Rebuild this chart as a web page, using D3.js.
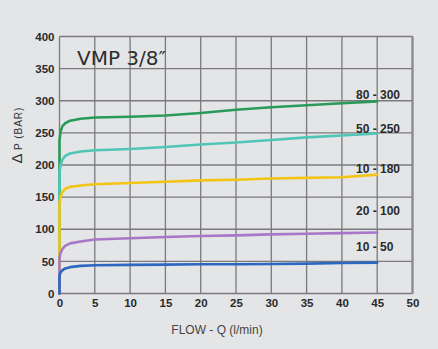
<!DOCTYPE html>
<html>
<head>
<meta charset="utf-8">
<script src="https://cdn.jsdelivr.net/npm/d3@7/dist/d3.min.js"></script>
<style>
  html, body { margin: 0; padding: 0; background: #e4e5e7; }
  svg { display: block; }
</style>
</head>
<body>
<svg id="chart" width="438" height="349"></svg>
<script>
// Pressure-relief curves, VMP 3/8" valve: pressure drop vs. flow per spring range
const xTicks = [0, 5, 10, 15, 20, 25, 30, 35, 40, 45, 50];
const yTicks = [0, 50, 100, 150, 200, 250, 300, 350, 400];

const seriesNames = ["80 - 300", "50 - 250", "10 - 180", "20 - 100", "10 - 50"];
const seriesColors = ["#2a9a5a", "#4fc6b6", "#f2c414", "#a877c8", "#2c67c0"];

// flow (l/min) and pressure (bar) pairs for each spring range
const flowQ = [0, 0, 0.15, 0.4, 0.8, 1.5, 3, 5, 10, 15, 20, 25, 30, 35, 40, 45];
const range80_300 = [0, 238, 252, 260, 265, 269, 272, 274, 275, 277, 281, 286, 290, 293, 296, 299];
const range50_250 = [0, 188, 200, 208, 214, 218, 221, 223, 225, 228, 232, 235, 239, 243, 246, 249];
const range10_180 = [0, 140, 150, 158, 163, 166, 168, 170, 172, 174, 176, 177, 179, 180, 181, 185];
const range20_100 = [0, 55, 63, 69, 74, 78, 81, 84, 86, 88, 89.5, 90.5, 92, 93, 94, 95];
const range10_50  = [0, 28, 33, 36, 39, 41, 43, 44, 44.5, 45, 45.5, 45.5, 46, 46.5, 47.5, 48];
const seriesValues = [range80_300, range50_250, range10_180, range20_100, range10_50];

const svg = d3.select("#chart");
const x = d3.scaleLinear().domain([0, 50]).range([59.5, 412.5]);
const y = d3.scaleLinear().domain([0, 400]).range([293.5, 36.5]);

// grid
const grid = svg.append("g");
grid.selectAll("line.v").data(xTicks).join("line")
  .attr("x1", d => x(d)).attr("x2", d => x(d))
  .attr("y1", y(0)).attr("y2", y(400))
  .attr("stroke", "#7a7a7c").attr("stroke-width", 1.3);
grid.selectAll("line.h").data(yTicks).join("line")
  .attr("x1", x(0)).attr("x2", x(50))
  .attr("y1", d => y(d)).attr("y2", d => y(d))
  .attr("stroke", "#7a7a7c").attr("stroke-width", 1.3);
// heavier frame on right edge
grid.append("line")
  .attr("x1", x(50)).attr("x2", x(50)).attr("y1", y(0)).attr("y2", y(400))
  .attr("stroke", "#8a8a8c").attr("stroke-width", 2.2);

// axes (labels only)
const xAxis = d3.axisBottom(x).tickValues(xTicks).tickSize(0).tickPadding(0);
const gx = svg.append("g").attr("transform", `translate(0,${y(0) + 5})`).call(xAxis);
gx.select(".domain").remove();
gx.selectAll("text")
  .attr("font-family", "Liberation Sans, Arial, sans-serif")
  .attr("font-weight", "bold").attr("font-size", 11.5).attr("fill", "#2a2a2a")
  .attr("dy", "0.71em");

const yAxis = d3.axisLeft(y).tickValues(yTicks).tickSize(0).tickPadding(5);
const gy = svg.append("g").attr("transform", `translate(${x(0)},0)`).call(yAxis);
gy.select(".domain").remove();
gy.selectAll("text")
  .attr("font-family", "Liberation Sans, Arial, sans-serif")
  .attr("font-weight", "bold").attr("font-size", 11.5).attr("fill", "#2a2a2a");

// curves
const line = d3.line()
  .x((d, i) => x(flowQ[i]))
  .y(d => y(d))
  .curve(d3.curveLinear);

svg.append("g").selectAll("path").data(seriesValues).join("path")
  .attr("d", d => line(d))
  .attr("fill", "none")
  .attr("stroke", (d, i) => seriesColors[i])
  .attr("stroke-width", 2.6)
  .attr("stroke-linejoin", "round")
  .attr("stroke-linecap", "round");

// range labels
const labelY = [300, 250, 180, 100, 50].map((v, i) => v);
const labelPos = [309, 257, 194, 129, 73];
svg.append("g").selectAll("text").data(seriesNames).join("text")
  .attr("x", 356)
  .attr("y", (d, i) => y(labelPos[i]))
  .attr("dy", "0.35em")
  .attr("font-family", "Liberation Sans, Arial, sans-serif")
  .attr("font-weight", "bold").attr("font-size", 12).attr("fill", "#2a2a2a")
  .text(d => d);

// title inside plot
svg.append("text")
  .attr("x", 77).attr("y", 65)
  .attr("font-family", "DejaVu Sans, sans-serif")
  .attr("font-size", 20).attr("fill", "#2e2e2e")
  .text("VMP 3/8\u2033");

// axis titles
svg.append("text")
  .attr("x", (x(0) + x(50)) / 2 - 19).attr("y", 334)
  .attr("text-anchor", "middle")
  .attr("font-family", "Liberation Sans, Arial, sans-serif")
  .attr("font-size", 12).attr("fill", "#444")
  .text("FLOW - Q (l/min)");

const yt = svg.append("text")
  .attr("transform", "translate(22,135) rotate(-90)")
  .attr("text-anchor", "middle")
  .attr("font-family", "Liberation Sans, Arial, sans-serif")
  .attr("fill", "#333");
yt.append("tspan").attr("font-size", 15).text("\u0394 ");
yt.append("tspan").attr("font-size", 10).attr("letter-spacing", 1).text("P (BAR)");
</script>
</body>
</html>
